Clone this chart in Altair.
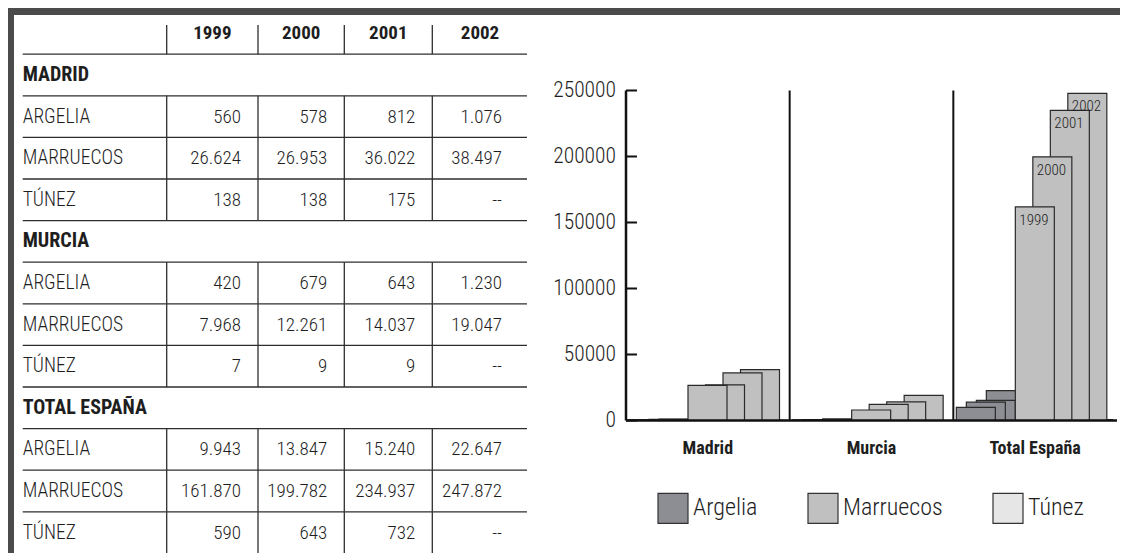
import altair as alt
import pandas as pd

# ---------------- data ----------------
years = ["1999", "2000", "2001", "2002"]
regions_table = ["MADRID", "MURCIA", "TOTAL ESPAÑA"]
countries_table = ["ARGELIA", "MARRUECOS", "TÚNEZ"]
regions_chart = ["Madrid", "Murcia", "Total España"]
countries_chart = ["Argelia", "Marruecos", "Túnez"]

madrid_argelia = [560, 578, 812, 1076]
madrid_marruecos = [26624, 26953, 36022, 38497]
madrid_tunez = [138, 138, 175, None]
murcia_argelia = [420, 679, 643, 1230]
murcia_marruecos = [7968, 12261, 14037, 19047]
murcia_tunez = [7, 9, 9, None]
espana_argelia = [9943, 13847, 15240, 22647]
espana_marruecos = [161870, 199782, 234937, 247872]
espana_tunez = [590, 643, 732, None]

y_ticks = [0, 50000, 100000, 150000, 200000, 250000]

values = [
    [madrid_argelia, madrid_marruecos, madrid_tunez],
    [murcia_argelia, murcia_marruecos, murcia_tunez],
    [espana_argelia, espana_marruecos, espana_tunez],
]

# ---------------- layout / style ----------------
W, H = 1112, 545
FONT = "'Roboto Condensed', 'DejaVu Sans Condensed', sans-serif"
LIGHT = 300
INK = "#1e1e1e"
LINE = "#2e2e2e"
FRAME = "#4b4b4b"
COLORS = ["#8d8e93", "#c0c0c0", "#e6e6e6"]

# table grid: column boundaries and row centres (piecewise scales)
TX = alt.Scale(domain=[0, 1, 2, 3, 4, 5, 5.1],
               range=[14.7, 158.7, 250, 336.3, 424.3, 511, 519], nice=False, zero=False)
TY = alt.Scale(domain=[0, 12], range=[25.4, 524.6], nice=False, zero=False)
COL_END = 5.1

# bar chart frame
BX = alt.Scale(domain=[0, 3], range=[618, 1109], nice=False, zero=False)
BY = alt.Scale(domain=[0, 250000], range=[412.5, 82.5], nice=False, zero=False)
GPX = (1109 - 618) / 3.0
BAR_W = 39
OFFSET = {"Argelia": 3, "Marruecos": 62, "Túnez": 112}
STEP = {"Argelia": 10, "Marruecos": 17.5, "Túnez": 4}
DRAW_ORDER = ["Túnez", "Argelia", "Marruecos"]
TICK_LEN = 11 / GPX


def fmt(v):
    if v is None:
        return "--"
    return f"{v:,}".replace(",", ".")


# ---------------- table frames ----------------
header = []
bounds = [1, 2, 3, 4, COL_END]
for i, y in enumerate(years):
    header.append(dict(text=y, c=(bounds[i] + bounds[i + 1]) / 2, r=0))
header_df = pd.DataFrame(header)

bold_labels, labels, cells, vlines = [], [], [], []
for b in range(1, 5):
    vlines.append(dict(c=b, r0=-0.2, r1=0.5))
r = 1
for gi, reg in enumerate(regions_table):
    bold_labels.append(dict(text=reg, c=0, r=r))
    r += 1
    for ci, cty in enumerate(countries_table):
        labels.append(dict(text=cty, c=0, r=r))
        for yi, v in enumerate(values[gi][ci]):
            cells.append(dict(text=fmt(v), c=yi + 2, r=r))
        for b in range(1, 5):
            vlines.append(dict(c=b, r0=r - 0.5, r1=r + 0.5))
        r += 1
hlines_df = pd.DataFrame(dict(r=[k + 0.5 for k in range(12)], c0=0, c1=COL_END))

tx = lambda f: alt.X(f, scale=TX, axis=None)
ty = lambda f: alt.Y(f, scale=TY, axis=None)

t_header = alt.Chart(header_df).mark_text(font=FONT, fontSize=19, fontWeight="bold",
                                           color=INK, align="center", baseline="middle").encode(
    x=tx("c:Q"), y=ty("r:Q"), text="text:N")
t_bold = alt.Chart(pd.DataFrame(bold_labels)).mark_text(font=FONT, fontSize=20, fontWeight="bold",
                                                        color=INK, align="left", baseline="middle").encode(
    x=tx("c:Q"), y=ty("r:Q"), text="text:N")
t_labels = alt.Chart(pd.DataFrame(labels)).mark_text(font=FONT, fontSize=19.5, fontWeight=LIGHT, color=INK,
                                                     align="left", baseline="middle").encode(
    x=tx("c:Q"), y=ty("r:Q"), text="text:N")
t_cells = alt.Chart(pd.DataFrame(cells)).mark_text(font=FONT, fontSize=19, fontWeight=LIGHT, color=INK,
                                                   align="right", baseline="middle", dx=-17).encode(
    x=tx("c:Q"), y=ty("r:Q"), text="text:N")
t_h = alt.Chart(hlines_df).mark_rule(color=LINE, strokeWidth=1.3).encode(
    x=tx("c0:Q"), x2="c1:Q", y=ty("r:Q"))
t_v = alt.Chart(pd.DataFrame(vlines)).mark_rule(color=LINE, strokeWidth=1.3, clip=True).encode(
    x=tx("c:Q"), y=ty("r0:Q"), y2="r1:Q")

table = alt.layer(t_h, t_v, t_header, t_bold, t_labels, t_cells)

# ---------------- bar frames ----------------
recs = []
for gi, reg in enumerate(regions_chart):
    for cname in DRAW_ORDER:
        ci = countries_chart.index(cname)
        vals = values[gi][ci]
        for yi in reversed(range(4)):
            v = vals[yi]
            if v is None:
                continue
            x0 = gi + (OFFSET[cname] + yi * STEP[cname]) / GPX
            recs.append(dict(region=reg, country=cname, year=years[yi], value=v, zero=0,
                             x0=x0, x1=x0 + BAR_W / GPX))
bars_df = pd.DataFrame(recs)

bx = lambda f: alt.X(f, scale=BX, axis=None)
by = lambda f: alt.Y(f, scale=BY, axis=None)

bars = alt.Chart(bars_df).mark_rect(stroke="#2a2a2a", strokeWidth=1.2).encode(
    x=bx("x0:Q"), x2="x1:Q", y=by("value:Q"), y2="zero:Q",
    color=alt.Color("country:N", scale=alt.Scale(domain=countries_chart, range=COLORS),
                    legend=alt.Legend(title=None, orient="none", legendX=649, legendY=484,
                                      direction="horizontal", symbolType="square",
                                      symbolSize=900, symbolStrokeColor="#333",
                                      symbolStrokeWidth=1.2, labelFont=FONT,
                                      labelFontWeight=LIGHT,
                                      labelFontSize=24, labelColor=INK, labelOffset=4,
                                      columnPadding=47)),
)

year_lab = alt.Chart(bars_df[(bars_df.region == "Total España") & (bars_df.country == "Marruecos")]).mark_text(
    font=FONT, fontSize=15, fontWeight=LIGHT, color=INK, align="left", baseline="middle", dx=4, dy=13).encode(
    x=bx("x0:Q"), y=by("value:Q"), text="year:N")

sep_df = pd.DataFrame(dict(g=[1, 2], lo=0, hi=250000))
seps = alt.Chart(sep_df).mark_rule(color="#111", strokeWidth=2).encode(
    x=bx("g:Q"), y=by("lo:Q"), y2="hi:Q")

axis_df = pd.DataFrame(dict(g=[0], lo=[0], hi=[250000]))
yaxis = alt.Chart(axis_df).mark_rule(color="#111", strokeWidth=2.5).encode(
    x=bx("g:Q"), y=by("lo:Q"), y2="hi:Q")

base_df = pd.DataFrame(dict(a=[0], b=[3], v=[0]))
baseline = alt.Chart(base_df).mark_rule(color="#111", strokeWidth=2.5).encode(
    x=bx("a:Q"), x2="b:Q", y=by("v:Q"))

ticks_df = pd.DataFrame(dict(v=y_ticks, a=0, b=TICK_LEN))
ticks = alt.Chart(ticks_df).mark_rule(color="#111", strokeWidth=2).encode(
    x=bx("a:Q"), x2="b:Q", y=by("v:Q"))
tick_labels = alt.Chart(ticks_df).mark_text(font=FONT, fontSize=21.5, fontWeight=LIGHT, color=INK,
                                            align="right", baseline="middle", dx=-10).encode(
    x=bx("a:Q"), y=by("v:Q"), text=alt.Text("v:Q", format="d"))

xlab_df = pd.DataFrame(dict(region=regions_chart, g=[0.5, 1.5, 2.5], v=0))
xlabels = alt.Chart(xlab_df).mark_text(font=FONT, fontSize=18, fontWeight="bold", color=INK,
                                       align="center", baseline="middle", dy=28).encode(
    x=bx("g:Q"), y=by("v:Q"), text="region:N")

barchart = alt.layer(bars, year_lab, seps, yaxis, baseline, ticks, tick_labels, xlabels)

# ---------------- frame ----------------
top_band = alt.Chart(pd.DataFrame({"k": [0]})).mark_rect(color=FRAME).encode(
    x=alt.value(0), x2=alt.value(W), y=alt.value(0), y2=alt.value(7))
left_band = alt.Chart(pd.DataFrame({"k": [0]})).mark_rect(color=FRAME).encode(
    x=alt.value(0), x2=alt.value(6), y=alt.value(0), y2=alt.value(H))

chart = alt.layer(top_band, left_band, table, barchart).resolve_scale(
    x="independent", y="independent"
).properties(
    width=W, height=H, padding=0, autosize=alt.AutoSizeParams(type="none"), background="white"
).configure_view(strokeWidth=0)

chart.save("out.html", embed_options={"renderer": "svg", "actions": False})
